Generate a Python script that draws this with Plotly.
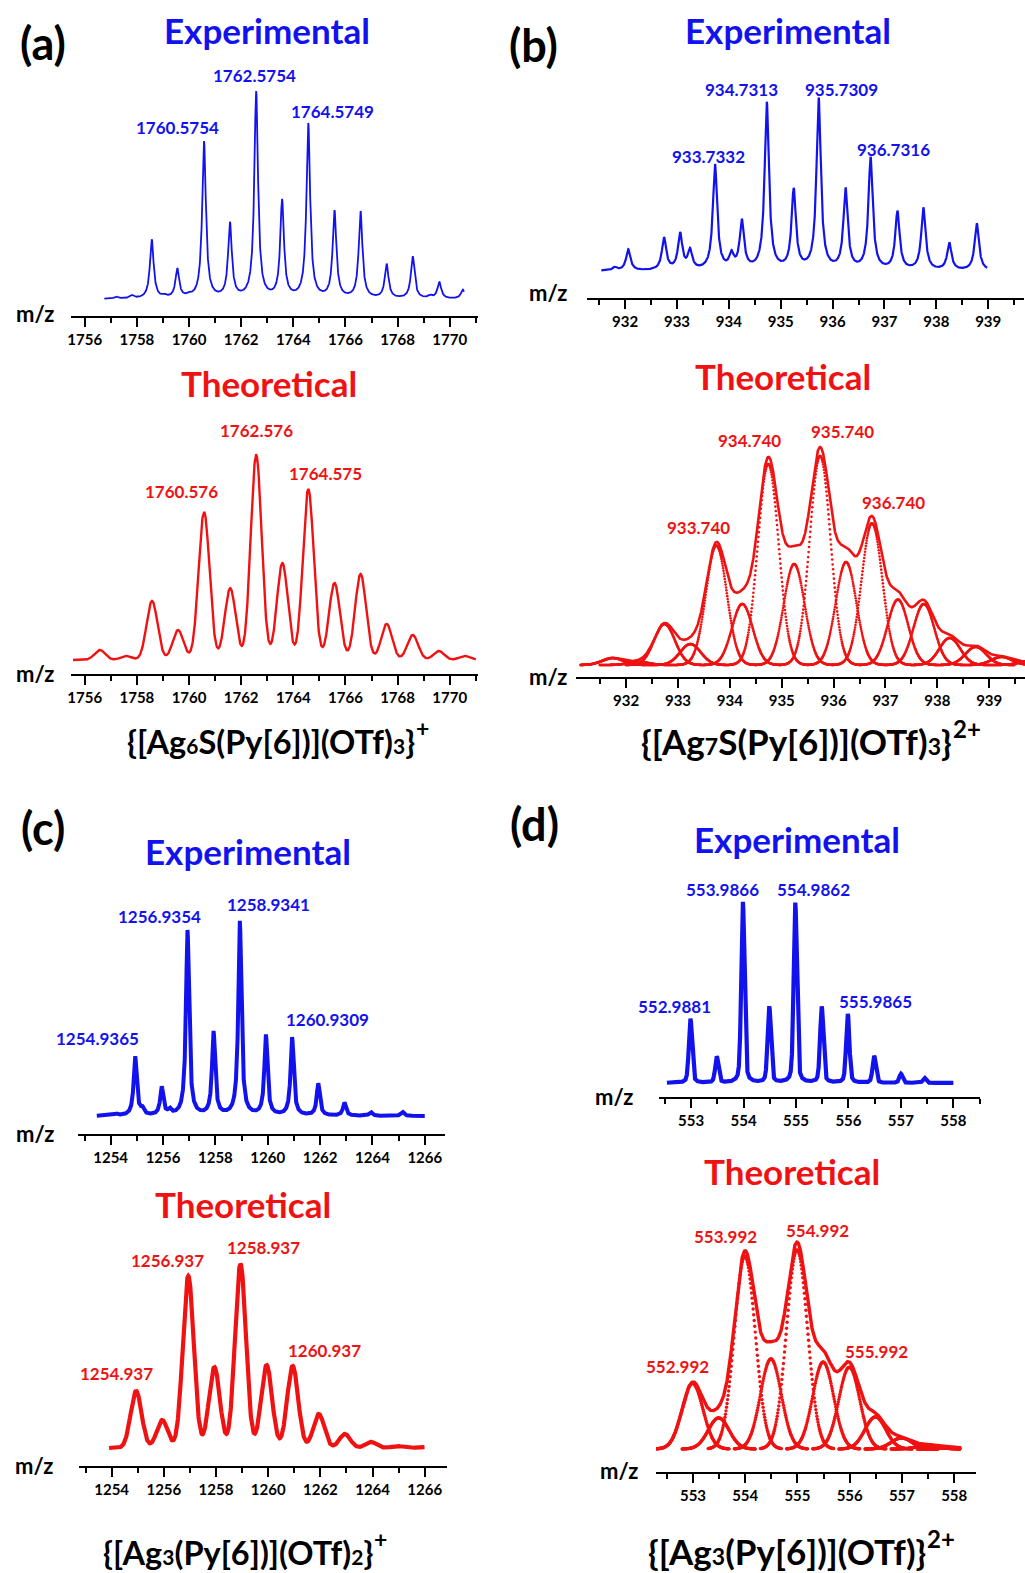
import numpy as np
import plotly.graph_objects as go

W, H = 1025, 1573
BLUE = "#1212ee"
RED = "#f01212"
FONT = "Lato"

# ------------------------------------------------------------------ data
# (a) {[Ag6S(Py[6])](OTf)3}+
a_exp_mz = [1757.2, 1757.8, 1758.57, 1759.05, 1759.55, 1760.0, 1760.575, 1761.57,
            1762.575, 1763.57, 1764.575, 1765.58, 1766.58, 1767.58, 1768.58,
            1769.25, 1769.6, 1770.5]
a_exp_int = [1.0, 1.5, 28.6, 1.0, 14.0, 1.0, 76.0, 36.0,
             100.0, 47.0, 84.5, 42.0, 42.0, 16.5, 20.4,
             1.2, 8.0, 4.4]
a_th_mz = [1756.58, 1757.58, 1758.58, 1759.58, 1760.576, 1761.58, 1762.576, 1763.58,
           1764.575, 1765.58, 1766.58, 1767.58, 1768.58, 1769.58, 1770.58]
a_th_int = [4.9, 2.0, 28.8, 14.6, 72.2, 35.0, 100.0, 47.3,
            83.4, 37.6, 42.0, 17.6, 12.2, 4.4, 2.0]
a_exp_labels = ["1760.5754", "1762.5754", "1764.5749"]
a_th_labels = ["1760.576", "1762.576", "1764.575"]

# (b) {[Ag7S(Py[6])](OTf)3}2+
b_exp_mz = [931.8, 932.06, 932.75, 933.06, 933.25, 933.733, 934.05, 934.25, 934.731,
            935.25, 935.731, 936.25, 936.732, 937.25, 937.75, 938.25, 938.78]
b_exp_int = [1.8, 12.3, 18.7, 21.0, 11.0, 61.4, 8.2, 28.0, 97.7,
             46.2, 100.0, 46.8, 65.5, 33.9, 36.3, 15.8, 27.5]
b_th_mz = [931.74, 932.24, 932.74, 933.24, 933.74, 934.24, 934.74, 935.24, 935.74,
           936.24, 936.74, 937.24, 937.74, 938.24, 938.74, 939.24, 939.74]
b_th_int = [3.2, 1.4, 18.8, 9.6, 54.8, 28.0, 92.2, 46.3, 95.9,
            47.2, 65.0, 30.0, 28.0, 12.4, 8.3, 3.7, 1.4]
b_exp_labels = ["933.7332", "934.7313", "935.7309", "936.7316"]
b_th_labels = ["933.740", "934.740", "935.740", "936.740"]

# (c) {[Ag3(Py[6])](OTf)2}+
c_exp_mz = [1254.2, 1254.936, 1255.2, 1255.95, 1256.25, 1256.935, 1257.93, 1258.934,
            1259.93, 1260.931, 1261.93, 1262.93, 1263.93, 1265.15]
c_exp_int = [1.0, 30.4, 3.0, 14.4, 2.5, 95.4, 42.8, 100.0,
             41.2, 40.2, 16.5, 6.7, 2.0, 2.0]
c_th_mz = [1254.937, 1255.937, 1256.937, 1257.937, 1258.937, 1259.937,
           1260.937, 1261.937, 1262.937, 1263.937, 1264.937, 1265.937]
c_th_int = [31.0, 15.2, 93.5, 44.0, 100.0, 45.1, 44.6, 18.5, 7.6, 3.3, 1.1, 0.5]
c_exp_labels = ["1254.9365", "1256.9354", "1258.9341", "1260.9309"]
c_th_labels = ["1254.937", "1256.937", "1258.937", "1260.937"]

# (d) {[Ag3(Py[6])](OTf)}2+
d_exp_mz = [552.988, 553.49, 553.987, 554.49, 554.986, 555.49, 555.987, 556.49, 557.0, 557.45]
d_exp_int = [35.4, 14.4, 100.0, 42.0, 99.4, 42.0, 38.1, 14.9, 5.0, 2.8]
d_th_mz = [552.992, 553.492, 553.992, 554.492, 554.992, 555.492, 555.992,
           556.492, 556.992, 557.492, 557.992]
d_th_int = [31.7, 15.0, 93.1, 43.5, 96.2, 42.0, 39.5, 15.5, 5.3, 1.9, 0.7]
d_exp_labels = ["552.9881", "553.9866", "554.9862", "555.9865"]
d_th_labels = ["552.992", "553.992", "554.992", "555.992"]

# formula: (main part with small digits, charge)
formula_parts = [
    [("{[Ag", ""), ("6", "s"), ("S(Py[6])](OTf)", ""), ("3", "s"), ("}", "")],
    [("{[Ag", ""), ("7", "s"), ("S(Py[6])](OTf)", ""), ("3", "s"), ("}", "")],
    [("{[Ag", ""), ("3", "s"), ("(Py[6])](OTf)", ""), ("2", "s"), ("}", "")],
    [("{[Ag", ""), ("3", "s"), ("(Py[6])](OTf)}", "")],
]
charges = ["+", "2+", "+", "2+"]


# ------------------------------------------------------------------ line shapes
def lorentz_sum(x, mz, inten, g):
    y = np.zeros_like(x)
    for c, h in zip(mz, inten):
        y += h / (1.0 + ((x - c) / g) ** 2)
    return y


def voigt_sum(x, mz, inten, s, g, eta):
    y = np.zeros_like(x)
    for c, h in zip(mz, inten):
        y += h * ((1 - eta) * np.exp(-0.5 * ((x - c) / s) ** 2) + eta / (1.0 + ((x - c) / g) ** 2))
    return y


def gauss(x, c, h, s):
    return h * np.exp(-0.5 * ((x - c) / s) ** 2)


# ------------------------------------------------------------------ layout helpers
def fx(p):
    return p / W


def fy(p):
    return 1 - p / H


# panel geometry in pixels: x-domain, x-range, axis line y, baseline y, y of 100 %, domain top
panels = {
    "a_exp": dict(xd=(68, 476), xr=(1755.464, 1771.07), ax=316, base=299, p100=93, top=60, dt=2, mn=1),
    "a_th": dict(xd=(68, 476), xr=(1755.464, 1771.07), ax=674, base=660, p100=455, top=405, dt=2, mn=1),
    "b_exp": dict(xd=(586, 1024), xr=(931.27, 939.69), ax=298, base=271, p100=100, top=60, dt=1, mn=0.5),
    "b_th": dict(xd=(575, 1025), xr=(931.04, 939.69), ax=677, base=665, p100=447, top=410, dt=1, mn=0.5),
    "c_exp": dict(xd=(75, 443), xr=(1252.743, 1266.76), ax=1134, base=1116, p100=922, top=880, dt=2, mn=1),
    "c_th": dict(xd=(76, 445), xr=(1252.74, 1266.84), ax=1466, base=1448, p100=1264, top=1230, dt=2, mn=1),
    "d_exp": dict(xd=(658, 980), xr=(552.39, 558.51), ax=1097, base=1083, p100=902, top=870, dt=1, mn=0.5),
    "d_th": dict(xd=(655, 976), xr=(552.294, 558.42), ax=1472, base=1449, p100=1242, top=1215, dt=1, mn=0.5),
}
order = ["a_exp", "a_th", "b_exp", "b_th", "c_exp", "c_th", "d_exp", "d_th"]
axid = {k: i + 1 for i, k in enumerate(order)}

fig = go.Figure()
layout = {}
for k in order:
    p = panels[k]
    i = axid[k]
    sc = (p["base"] - p["p100"]) / 100.0
    yr = (-(p["ax"] - p["base"]) / sc, (p["base"] - p["top"]) / sc)
    xname = "xaxis" if i == 1 else f"xaxis{i}"
    yname = "yaxis" if i == 1 else f"yaxis{i}"
    layout[xname] = dict(
        domain=[fx(p["xd"][0]), fx(p["xd"][1])], range=list(p["xr"]),
        anchor="y" if i == 1 else f"y{i}",
        showgrid=False, zeroline=False, showline=True, linecolor="black", linewidth=2,
        ticks="outside", ticklen=9, tickwidth=2, tickcolor="black",
        dtick=p["dt"], tick0=0,
        minor=dict(dtick=p["mn"], tick0=0, ticks="outside", ticklen=5, tickwidth=2,
                   tickcolor="black", showgrid=False),
        tickfont=dict(family=FONT, size=15, color="black", weight="bold"),
        fixedrange=True,
    )
    layout[yname] = dict(
        domain=[fy(p["ax"]), fy(p["top"])], range=list(yr),
        anchor="x" if i == 1 else f"x{i}",
        visible=False, showgrid=False, zeroline=False, fixedrange=True,
    )


def add(k, x, y, color, width=None, marker=None):
    i = axid[k]
    xa = "x" if i == 1 else f"x{i}"
    ya = "y" if i == 1 else f"y{i}"
    if marker is None:
        fig.add_trace(go.Scatter(x=x, y=y, mode="lines", line=dict(color=color, width=width),
                                 xaxis=xa, yaxis=ya, hoverinfo="skip", showlegend=False))
    else:
        fig.add_trace(go.Scatter(x=x, y=y, mode="markers",
                                 marker=dict(color=color, size=marker, line=dict(width=0)),
                                 xaxis=xa, yaxis=ya, hoverinfo="skip", showlegend=False))


# (a)
x = np.arange(1756.75, 1770.55, 0.004)
add("a_exp", x, lorentz_sum(x, a_exp_mz, a_exp_int, 0.085), BLUE, 1.8)
x = np.arange(1755.55, 1771.0, 0.01)
add("a_th", x, sum(gauss(x, c, h, 0.21) for c, h in zip(a_th_mz, a_th_int)), RED, 2.4)

# (b)
x = np.arange(931.54, 938.98, 0.002)
add("b_exp", x, lorentz_sum(x, b_exp_mz, b_exp_int, 0.05), BLUE, 2.2)
SB = 0.2
for c, h in zip(b_th_mz, b_th_int):
    xc = np.arange(max(c - 0.75, 931.12), min(c + 0.75, 939.69), 0.008)
    add("b_th", xc, gauss(xc, c, h, SB), RED, marker=2.6)
x = np.arange(931.12, 939.69, 0.005)
add("b_th", x, sum(gauss(x, c, h, SB) for c, h in zip(b_th_mz, b_th_int)), RED, 2.6)

# (c)
x = np.arange(1253.47, 1266.0, 0.004)
add("c_exp", x, lorentz_sum(x, c_exp_mz, c_exp_int, 0.07), BLUE, 4.0)
x = np.arange(1253.9, 1266.0, 0.01)
add("c_th", x, sum(gauss(x, c, h, 0.21) for c, h in zip(c_th_mz, c_th_int)), RED, 4.2)

# (d)
x = np.arange(552.54, 558.0, 0.002)
add("d_exp", x, voigt_sum(x, d_exp_mz, d_exp_int, 0.03, 0.04, 0.3), BLUE, 4.2)
SD = 0.2
for c, h in zip(d_th_mz, d_th_int):
    xc = np.arange(c - 0.7, min(c + 0.7, 558.12), 0.01)
    add("d_th", xc, gauss(xc, c, h, SD), RED, marker=3.4)
x = np.arange(552.3, 558.12, 0.005)
add("d_th", x, sum(gauss(x, c, h, SD) for c, h in zip(d_th_mz, d_th_int)), RED, 3.4)

# ------------------------------------------------------------------ texts
ann = []


def txt(t, xp, yp, size, color, anchor="center", pad=1):
    ann.append(dict(text=f"<b>{t}</b>", x=fx(xp), y=fy(yp), xref="paper", yref="paper",
                    xanchor=anchor, yanchor="middle", showarrow=False, borderpad=pad,
                    font=dict(family=FONT, size=size, color=color)))


for t, xp, yp in [("(a)", 40, 43), ("(b)", 532, 45), ("(c)", 40, 828), ("(d)", 533, 824)]:
    txt(t, xp, yp, 45, "black")

for xp, yp in [(265, 30), (787, 30), (246, 851), (796, 839)]:
    txt("Experimental", xp, yp, 35, BLUE)
for xp, yp in [(267, 383), (782, 376), (241, 1204), (791, 1171)]:
    txt("Theoretical", xp, yp, 35, RED)

# formulas: right-anchored main part + left-anchored charge
f_geom = [(414, 741, 32.5), (953, 741, 35), (372, 1552, 32.5), (927, 1551, 35)]
for parts, ch, (xr, yc, fs) in zip(formula_parts, charges, f_geom):
    s = ""
    for t, kind in parts:
        if kind == "s":
            s += f'<span style="font-size:{round(fs * 0.66)}px">{t}</span>'
        else:
            s += t
    txt(s, xr, yc, fs, "black", anchor="right", pad=0)
    txt(ch, xr - 1, yc - 13, round(fs * 0.7), "black", anchor="left", pad=0)

for xp, yp in [(32, 313), (32, 673), (547, 292), (547, 677),
               (32, 1133), (31, 1465), (613, 1096), (618, 1470)]:
    txt("m/z", xp, yp, 22, "black")

label_pos = [
    (a_exp_labels, [(175, 127), (252, 76), (330, 111)], BLUE),
    (a_th_labels, [(179, 492), (254, 430), (323, 474)], RED),
    (b_exp_labels, [(708, 156), (741, 89), (841, 89), (893, 149)], BLUE),
    (b_th_labels, [(698, 527), (749, 440), (842, 431), (893, 502)], RED),
    (c_exp_labels, [(95, 1038), (157, 916), (266, 904), (325, 1019)], BLUE),
    (c_th_labels, [(114, 1373), (165, 1260), (261, 1247), (322, 1350)], RED),
    (d_exp_labels, [(673, 1007), (722, 889), (813, 889), (875, 1001)], BLUE),
    (d_th_labels, [(676, 1366), (725, 1236), (817, 1230), (876, 1351)], RED),
]
for labels, pos, col in label_pos:
    for t, (xp, yp) in zip(labels, pos):
        txt(t, xp, yp, 17, col)

fig.update_layout(
    width=W, height=H, margin=dict(l=0, r=0, t=0, b=0),
    paper_bgcolor="white", plot_bgcolor="white", showlegend=False,
    annotations=ann, **layout,
)
fig.write_html("out.html")
